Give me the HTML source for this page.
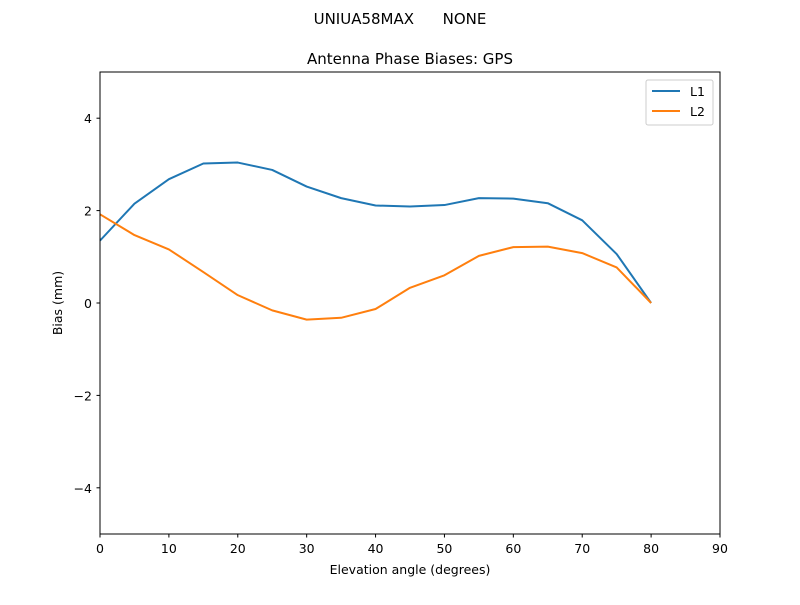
<!DOCTYPE html>
<html><head><meta charset="utf-8"><style>
body{margin:0;background:#fff;}
svg text{font-family:"DejaVu Sans","Liberation Sans",sans-serif;fill:#000;white-space:pre;}
</style></head><body>
<svg id="chart" width="800" height="600" xmlns="http://www.w3.org/2000/svg">
<text x="400" y="24" font-size="15" text-anchor="middle" xml:space="preserve">UNIUA58MAX      NONE</text>
<text x="410" y="64" font-size="15" text-anchor="middle">Antenna Phase Biases: GPS</text>
<g id="ticks"></g>
<g id="series"></g>
<rect x="100" y="72" width="620" height="462" fill="none" stroke="#000" stroke-width="1"/>
<text x="410" y="574" font-size="12.5" text-anchor="middle">Elevation angle (degrees)</text>
<text x="62" y="303" font-size="12.5" text-anchor="middle" transform="rotate(-90 62 303)">Bias (mm)</text>
<g>
<rect x="646" y="80" width="67" height="45" rx="2" fill="#fff" stroke="#ccc"/>
<line x1="652" y1="91" x2="680" y2="91" stroke="#1f77b4" stroke-width="2"/>
<text x="690" y="96" font-size="12.5">L1</text>
<line x1="652" y1="111" x2="680" y2="111" stroke="#ff7f0e" stroke-width="2"/>
<text x="690" y="116" font-size="12.5">L2</text>
</g>
</svg>
<script>
const elev=[0,5,10,15,20,25,30,35,40,45,50,55,60,65,70,75,80];
const l1=[1.35,2.15,2.68,3.02,3.04,2.88,2.52,2.27,2.11,2.09,2.12,2.27,2.26,2.16,1.79,1.06,0.0];
const l2=[1.92,1.47,1.16,0.67,0.17,-0.16,-0.36,-0.32,-0.13,0.33,0.60,1.02,1.21,1.22,1.08,0.77,0.0];
const xTicks=[0,10,20,30,40,50,60,70,80,90];
const yTicks=[-4,-2,0,2,4];
const yTickLabels=["\u22124","\u22122","0","2","4"];
const NS="http://www.w3.org/2000/svg";
const X=v=>100+v/90*620, Y=v=>303-v*46.2;
const tg=document.getElementById('ticks'), sg=document.getElementById('series');
function mk(t,a,p){const e=document.createElementNS(NS,t);for(const k in a)e.setAttribute(k,a[k]);p.appendChild(e);return e;}
xTicks.forEach(v=>{
 const l=mk('line',{x1:X(v),x2:X(v),y1:534,y2:537.5,stroke:'#000'},tg);
 
 
 const t=mk('text',{x:X(v),y:553,'font-size':12.5,'text-anchor':'middle'},tg);t.textContent=v;
 
 
});
yTicks.forEach((v,i)=>{
 const l=mk('line',{x1:96.5,x2:100,y1:Y(v),y2:Y(v),stroke:'#000'},tg);
 
 
 const t=mk('text',{x:92,y:Y(v)+5,'font-size':12.5,'text-anchor':'end'},tg);t.textContent=yTickLabels[i];
 
 
});
function line(d,c,n){
 const p=mk('polyline',{points:d.map((v,i)=>X(elev[i])+','+Y(v)).join(' '),fill:'none',stroke:c,'stroke-width':2,'stroke-linejoin':'round'},sg);
 
 
}
line(l1,'#1f77b4','series-l1');
line(l2,'#ff7f0e','series-l2');
</script>
</body></html>
